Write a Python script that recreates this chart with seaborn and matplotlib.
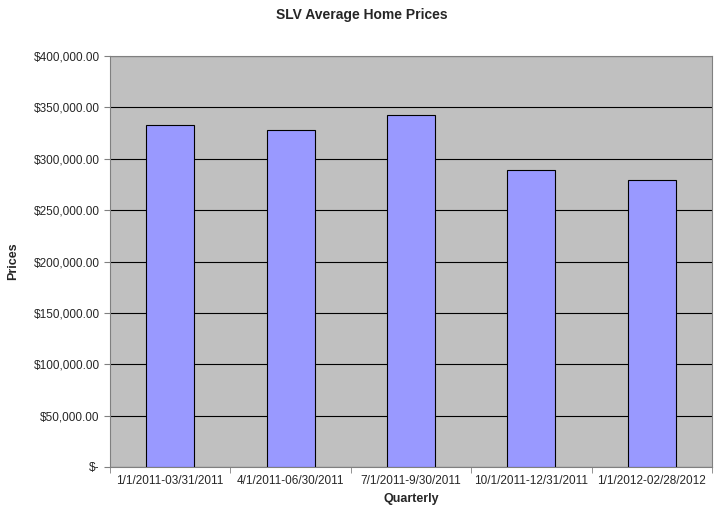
import matplotlib
matplotlib.use('Agg')
import matplotlib.pyplot as plt
import seaborn as sns
import pandas as pd
from matplotlib.ticker import FuncFormatter, FixedLocator

quarters = ['1/1/2011-03/31/2011', '4/1/2011-06/30/2011', '7/1/2011-9/30/2011',
            '10/1/2011-12/31/2011', '1/1/2012-02/28/2012']
prices = [332700, 327800, 342400, 288800, 279000]

df = pd.DataFrame({'Quarterly': quarters, 'Prices': prices})

sns.set_style('white')
plt.rcParams['font.family'] = ['Arial', 'Liberation Sans', 'DejaVu Sans']

fig = plt.figure(figsize=(7.23, 5.23), dpi=100)
ax = fig.add_axes([110/723, 56/523, 602/723, 411/523])
ax.set_facecolor('#C0C0C0')

sns.barplot(data=df, x='Quarterly', y='Prices', color='#9999FF', edgecolor='black',
            linewidth=0.8, width=0.4, saturation=1, ax=ax, zorder=3)

ax.set_ylim(0, 400000)
ax.set_xlim(-0.5, len(quarters) - 0.5)
ax.set_yticks(range(0, 400001, 50000))
ax.yaxis.set_major_formatter(FuncFormatter(lambda v, p: '$-' if v == 0 else f'${v:,.2f}'))
ax.grid(axis='y', color='black', linewidth=0.8, zorder=0)
ax.set_axisbelow(True)
for s in ax.spines.values():
    s.set_color('#808080')
    s.set_linewidth(0.8)

ax.tick_params(axis='x', length=0, labelsize=8.5, pad=6)
ax.tick_params(axis='y', length=4, left=True, labelsize=8.5, color='#808080')
ax.xaxis.set_minor_locator(FixedLocator([i - 0.5 for i in range(len(quarters) + 1)]))
ax.tick_params(axis='x', which='minor', length=4, bottom=True, color='#808080')

ax.set_xlabel('Quarterly', fontsize=9, fontweight='bold', labelpad=4)
ax.set_ylabel('Prices', fontsize=9, fontweight='bold', labelpad=10)
fig.suptitle('SLV Average Home Prices', fontsize=10, fontweight='bold', y=0.985)

fig.savefig('out.png', dpi=100)
